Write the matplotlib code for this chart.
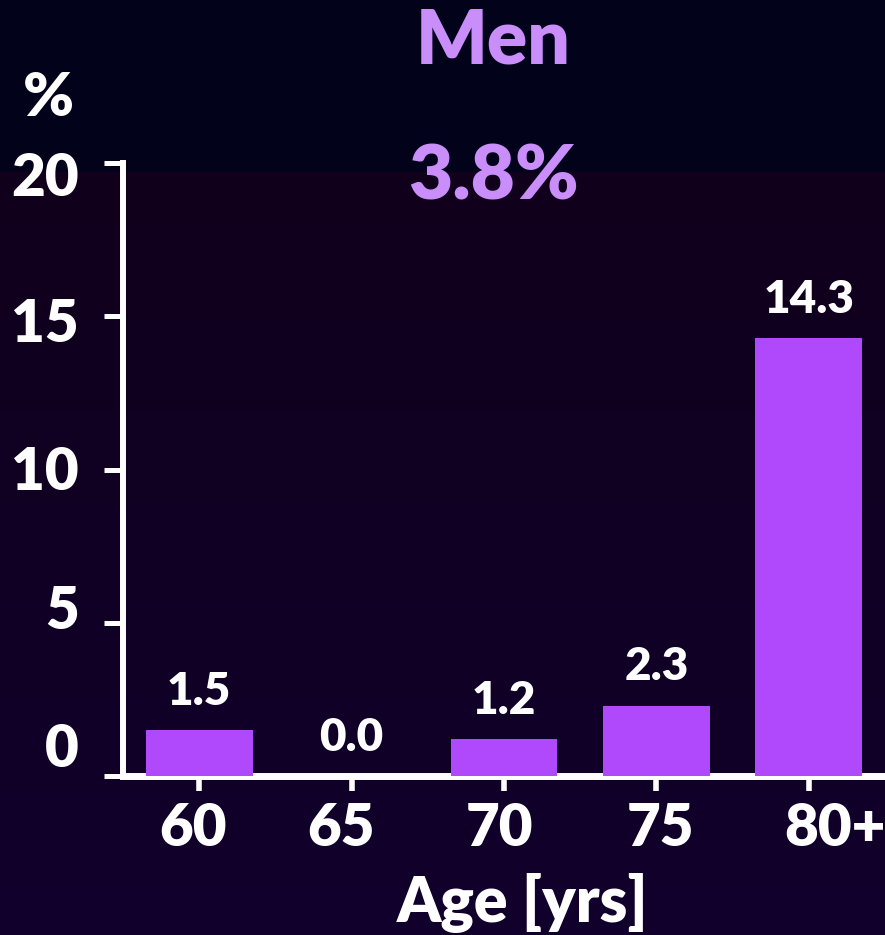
import numpy as np
import matplotlib
matplotlib.use("Agg")
import matplotlib.pyplot as plt
from matplotlib.transforms import ScaledTranslation

plt.rcParams['font.family'] = ['Lato', 'DejaVu Sans']

age_groups = ['60', '65', '70', '75', '80+']
prevalence = [1.5, 0.0, 1.2, 2.3, 14.3]
y_ticks = [0, 5, 10, 15, 20]
panel_title = 'Men'
overall = '3.8%'

bar_color = '#b048fc'
accent = '#c98ef9'

fig = plt.figure(figsize=(8.85, 9.35), dpi=100)
fig.patch.set_facecolor('#02031a')

# background: dark navy strip at top, purple-tinted gradient below
bg = fig.add_axes([0, 0, 1, 1], zorder=-10)
bg.axis('off')
grad = np.linspace(0, 1, 256)[:, None]
top_c = np.array([0x11, 0x00, 0x1c]) / 255
bot_c = np.array([0x10, 0x00, 0x2c]) / 255
img = top_c + (bot_c - top_c) * grad[..., None]
bg.imshow(np.repeat(img, 2, axis=1), extent=[0, 1, 0, 1 - 172 / 935],
          aspect='auto', origin='upper')
bg.set_xlim(0, 1)
bg.set_ylim(0, 1)

ax = fig.add_axes([123 / 885, 1 - 776 / 935, 1 - 123 / 885, (776 - 163) / 935])
ax.set_facecolor('none')

x = np.arange(len(age_groups))
ax.bar(x, prevalence, width=0.7, color=bar_color, zorder=3)
for xi, v in zip(x, prevalence):
    ax.annotate(f'{v:.1f}', (xi, v), xytext=(0, 13), textcoords='offset points',
                ha='center', va='bottom', color='white', fontsize=33,
                fontweight='heavy')

ax.set_xlim(-0.5, 4.5)
ax.set_ylim(0, 20)
ax.set_xticks(x)
ax.set_xticklabels(age_groups)
ax.set_yticks(y_ticks)

for s in ['top', 'right']:
    ax.spines[s].set_visible(False)
ax.spines['left'].set_color('white')
ax.spines['left'].set_linewidth(4.3)
ax.spines['bottom'].set_color('white')
ax.spines['bottom'].set_linewidth(5)
ax.spines['bottom'].set_zorder(2)

ax.tick_params(axis='y', colors='white', length=14, width=3.6, pad=18,
               labelsize=42)
ax.tick_params(axis='x', colors='white', length=11, width=4, pad=8,
               labelsize=42)
for lab in ax.get_xticklabels() + ax.get_yticklabels():
    lab.set_fontweight('heavy')

# tick labels sit a little off their ticks (nudges in pixels)
y_nudge = {0: 31, 5: 16, 10: 1, 15: -4, 20: -11}
for lab, t in zip(ax.get_yticklabels(), y_ticks):
    lab.set_transform(lab.get_transform() +
                      ScaledTranslation(0, y_nudge[t] / 100, fig.dpi_scale_trans))
x_nudge = [-6, -11, -4, 4, 26]
for lab, dx in zip(ax.get_xticklabels(), x_nudge):
    lab.set_transform(lab.get_transform() +
                      ScaledTranslation(dx / 100, 0, fig.dpi_scale_trans))

ax.set_xlabel('Age [yrs]', color='white', fontsize=45, fontweight='heavy')
ax.xaxis.label.set_va('center')
ax.xaxis.set_label_coords(0.525, -0.207)

fig.text(48 / 885, 1 - 98 / 935, '%', color='white', fontsize=44,
         fontweight='heavy', ha='center', va='center')
fig.text(493 / 885, 1 - 42 / 935, panel_title, color=accent, fontsize=54,
         fontweight='heavy', ha='center', va='center')
fig.text(493 / 885, 1 - 178 / 935, overall, color=accent, fontsize=55,
         fontweight='heavy', ha='center', va='center')

fig.savefig('out.png', dpi=100, facecolor=fig.get_facecolor())
